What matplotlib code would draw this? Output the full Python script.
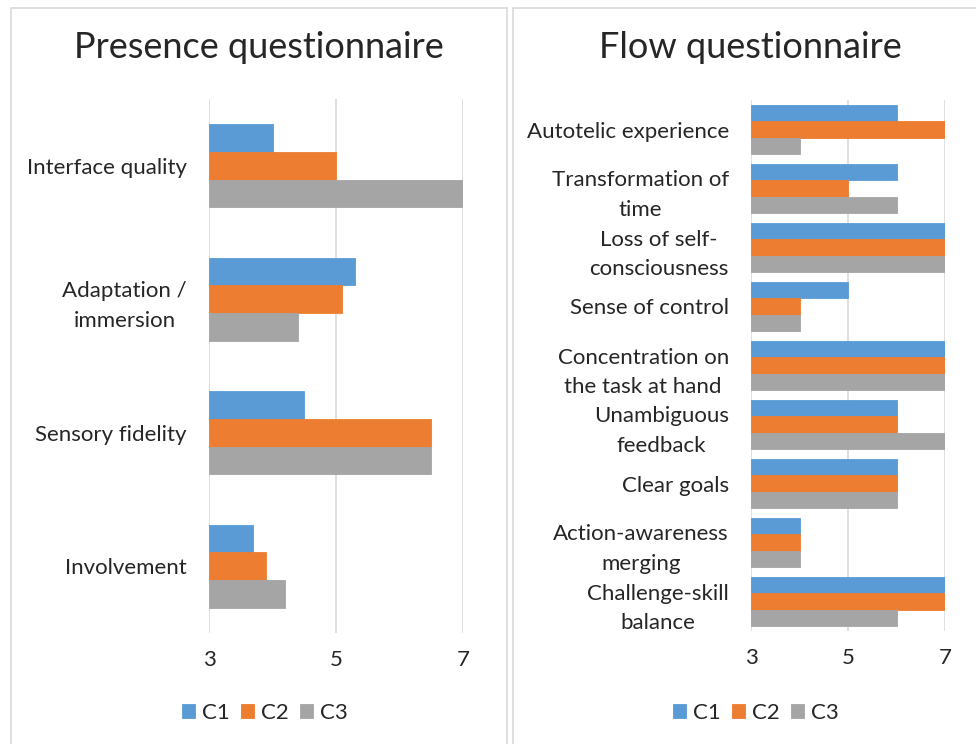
import numpy as np
import matplotlib.pyplot as plt
from matplotlib.patches import Rectangle

plt.rcParams.update({
    "font.family": ["Lato", "DejaVu Sans"],
    "font.size": 13,
})

# Dati
series = ["C1", "C2", "C3"]
colors = ["#5b9bd5", "#ed7d31", "#a5a5a5"]

presence_cats = ["Interface quality", "Adaptation /\nimmersion", "Sensory fidelity", "Involvement"]
presence_c1 = [4.0, 5.3, 4.5, 3.7]
presence_c2 = [5.0, 5.1, 6.5, 3.9]
presence_c3 = [7.0, 4.4, 6.5, 4.2]

flow_cats = ["Autotelic experience", "Transformation of\ntime", "Loss of self-\nconsciousness",
             "Sense of control", "Concentration on\nthe task at hand", "Unambiguous\nfeedback",
             "Clear goals", "Action-awareness\nmerging", "Challenge-skill\nbalance"]
flow_c1 = [6, 6, 7, 5, 7, 6, 6, 4, 7]
flow_c2 = [7, 5, 7, 4, 7, 6, 6, 4, 7]
flow_c3 = [4, 6, 7, 4, 7, 7, 6, 4, 6]

ticks = [3, 5, 7]

fig = plt.figure(figsize=(9.76, 7.44), dpi=100)
W, H = 976, 744

# bordi dei pannelli (stile Excel)
for x0, x1 in [(11, 507), (513, 990)]:
    fig.patches.append(Rectangle((x0 / W, 1 - 760 / H), (x1 - x0) / W, (760 - 8) / H,
                                 transform=fig.transFigure, fill=False,
                                 edgecolor="#d9d9d9", linewidth=1.2))


def draw_panel(ax, cats, vals, title, h, title_x, leg_x):
    n = len(cats)
    y = np.arange(n)
    for i, (v, c) in enumerate(zip(vals, colors)):
        ax.barh(y - h + i * h, np.array(v) - 3, left=3, height=h, color=c,
                edgecolor=c, linewidth=0.6, label=series[i], zorder=3)
    ax.set_xlim(3, 7)
    ax.set_ylim(n - 0.5, -0.5)
    ax.set_xticks(ticks)
    ax.set_xticklabels([str(t) for t in ticks], fontsize=16, color="#262626")
    ax.set_yticks(y)
    ax.set_yticklabels(cats, fontsize=16, color="#262626")
    for lab in ax.get_yticklabels():
        lab.set_multialignment("center")
        lab.set_linespacing(1.6)
    ax.tick_params(length=0, pad=16)
    ax.tick_params(axis="x", pad=12)
    ax.grid(axis="x", color="#d9d9d9", linewidth=1.2, zorder=0)
    for s in ax.spines.values():
        s.set_visible(False)
    fig.text(title_x, 1 - 48 / H, title, fontsize=26, ha="center", va="center", color="#262626")
    leg = ax.legend(loc="center left", bbox_to_anchor=(leg_x, 1 - 713 / H),
                    bbox_transform=fig.transFigure, ncol=3, frameon=False,
                    fontsize=16, handlelength=0.6, handleheight=0.6, handletextpad=0.3,
                    columnspacing=0.5, labelcolor="#262626", borderpad=0, borderaxespad=0)
    return leg


ax1 = fig.add_axes([209 / W, 1 - 633 / H, (463 - 209) / W, (633 - 99) / H])
draw_panel(ax1, presence_cats, [presence_c1, presence_c2, presence_c3],
           "Presence questionnaire", 0.207, 259 / W, 182 / W)

ax2 = fig.add_axes([751 / W, 1 - 631 / H, (945 - 751) / W, (631 - 100) / H])
draw_panel(ax2, flow_cats, [flow_c1, flow_c2, flow_c3],
           "Flow questionnaire", 0.277, 750 / W, 673 / W)

fig.savefig("out.png", dpi=100)
